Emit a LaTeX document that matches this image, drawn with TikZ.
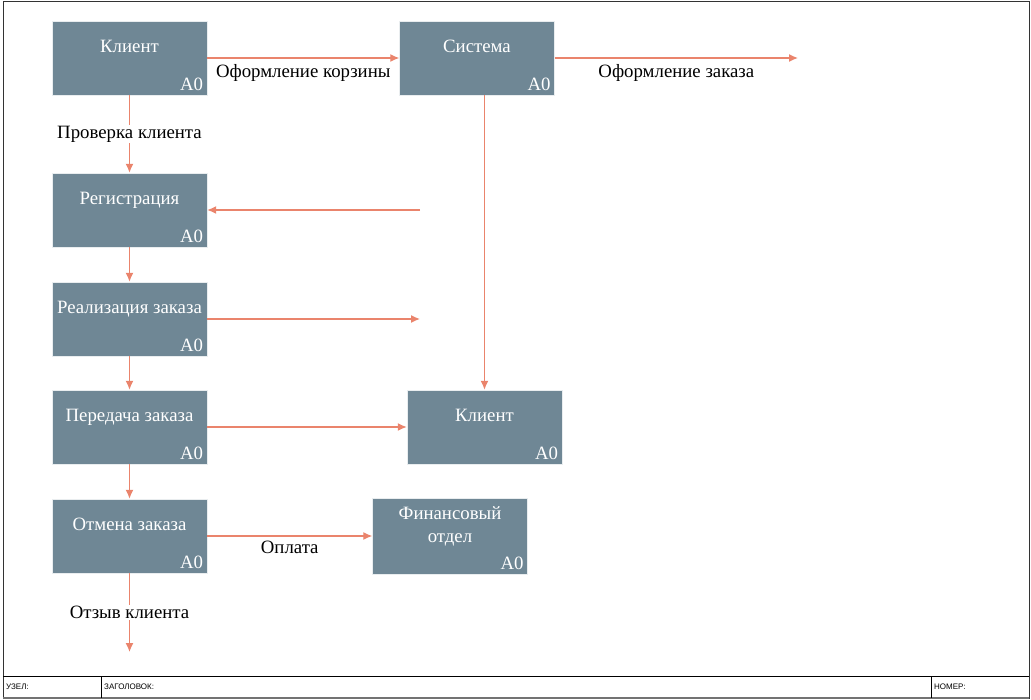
\documentclass[tikz,border=0pt]{standalone}
\usepackage{fontspec}
\setmainfont{Liberation Serif}
\newfontfamily\footfont{Liberation Sans}
\usepackage{tikz}
\usetikzlibrary{arrows.meta}
\definecolor{boxgray}{RGB}{111,135,149}
\definecolor{flow}{RGB}{234,132,108}
\tikzstyle{box}=[rectangle,fill=boxgray,draw=white!85!boxgray,minimum width=155pt,minimum height=74pt,inner sep=0pt]
\tikzstyle{title}=[anchor=north,text=white,align=center,yshift=-19pt,inner sep=0pt]
\tikzstyle{num}=[anchor=south east,text=white,xshift=-4pt,yshift=4pt,inner sep=0pt]
\tikzstyle{edge} = [draw=flow,line width=1.3pt,-{Latex[length=9pt,width=8pt]}]
\tikzstyle{tag}=[fill=white,inner sep=1pt]
\tikzstyle{foot}=[anchor=west,font=\footfont\fontsize{8}{9}\selectfont,inner sep=0pt]

\begin{document}
\begin{tikzpicture}[x=1pt,y=-1pt,font=\fontsize{18.8}{23}\selectfont]
      \useasboundingbox (0,0) rectangle (1031,700);
      % frame
      \draw[line width=1pt,black!80] (3,2) rectangle (1029,698);
      \draw[line width=2pt,black!55] (3,698) -- (1029,698);
      \draw[line width=1pt] (3,676) -- (1029,676);
      \draw (101,676) -- (101,698);
      \draw (931,676) -- (931,698);
      \node[foot] (uzel) at (6,687) {УЗЕЛ:};
      \node[foot] (zag) at (104,687) {ЗАГОЛОВОК:};
      \node[foot] (nomer) at (934,687) {НОМЕР:};
      % blocks
      \node[box,label={[title]north:Клиент},label={[num]south east:A0}] (client) at (129.5,58) {};
      \node[box,label={[title]north:Система},label={[num]south east:A0}] (system) at (477,58) {};
      \node[box,label={[title]north:Регистрация},label={[num]south east:A0}] (reg) at (129.5,210) {};
      \node[box,label={[title]north:Реализация заказа},label={[num]south east:A0}] (real) at (129.5,319) {};
      \node[box,label={[title]north:Передача заказа},label={[num]south east:A0}] (pass) at (129.5,427) {};
      \node[box,label={[title]north:Отмена заказа},label={[num]south east:A0}] (cancel) at (129.5,536) {};
      \node[box,label={[title]north:Клиент},label={[num]south east:A0}] (client2) at (484.5,427) {};
      \node[box,minimum height=76pt,label={[title,yshift=10pt]north:Финансовый\\отдел},label={[num]south east:A0}] (fin) at (450,536) {};
      % free ends
      \coordinate (out1) at (798,58);
      \coordinate (in1) at (420,210);
      \coordinate (out2) at (420,319);
      \coordinate (out3) at (129.5,652);
      % flows
      \draw[edge] (client.east |- 0,58) to node[below=2pt] (l1) {Оформление корзины} (system.west |- 0,58);
      \draw[edge] (system.east |- 0,58) to node[below=2pt] (l2) {Оформление заказа} (out1);
      \draw[edge] (client) to node[tag] (l3) {Проверка клиента} (reg);
      \draw[edge] (in1) to (reg.east |- in1);
      \draw[edge] (real.east |- out2) to (out2);
      \draw[edge] (reg) to (real);
      \draw[edge] (real) to (pass);
      \draw[edge] (pass) to (cancel);
      \draw[edge] (system.south -| client2.north) to (client2.north);
      \draw[edge] (pass.east) to (client2.west);
      \draw[edge] (cancel.east) to node[below=1pt] (l4) {Оплата} (fin.west);
      \draw[edge] (cancel) to node[tag] (l5) {Отзыв клиента} (out3);
\end{tikzpicture}
\end{document}
